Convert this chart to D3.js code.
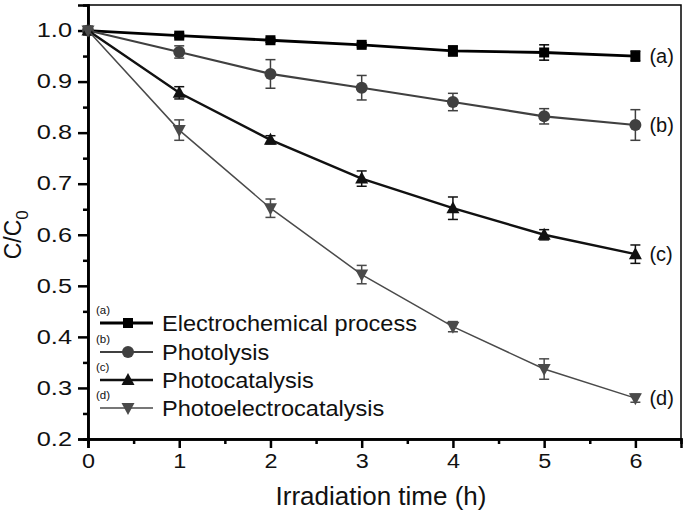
<!DOCTYPE html>
<html><head><meta charset="utf-8">
<script src="https://cdn.jsdelivr.net/npm/d3@7"></script>
<style>body{margin:0;background:#fff;} svg{display:block;font-family:Arial,"Liberation Sans",sans-serif;}</style>
</head><body>
<svg id="c" width="685" height="511"></svg>
<script>
const times = [0,1,2,3,4,5,6];
const seriesNames = ["Electrochemical process","Photolysis","Photocatalysis","Photoelectrocatalysis"];
const seriesTags = ["(a)","(b)","(c)","(d)"];
const valuesA = [1.0,0.990,0.981,0.972,0.960,0.957,0.950];
const errorsA = [0,0.004,0.004,0.004,0.010,0.015,0.010];
const valuesB = [1.0,0.958,0.915,0.888,0.860,0.832,0.815];
const errorsB = [0,0.012,0.028,0.024,0.017,0.015,0.030];
const valuesC = [1.0,0.878,0.786,0.710,0.652,0.600,0.562];
const errorsC = [0,0.012,0.008,0.015,0.022,0.010,0.018];
const valuesD = [1.0,0.805,0.652,0.522,0.420,0.337,0.280];
const errorsD = [0,0.020,0.018,0.018,0.010,0.020,0.008];
const yTicks = [0.2,0.3,0.4,0.5,0.6,0.7,0.8,0.9,1.0];
const xTicks = [0,1,2,3,4,5,6];

const styles = [
  {color:"#000000", width:2.8, shape:"square"},
  {color:"#404040", width:2.2, shape:"circle"},
  {color:"#111111", width:2.4, shape:"triangle"},
  {color:"#4a4a4a", width:1.5, shape:"tridown"}
];
const allVals=[valuesA,valuesB,valuesC,valuesD], allErr=[errorsA,errorsB,errorsC,errorsD];

const svg = d3.select("#c");
const L=88,R=681,T=5,B=439;
const x = d3.scaleLinear().domain([0,6.5]).range([L,R]);
const y = d3.scaleLinear().domain([0.2,1.05]).range([B,T]);
const SX = 1.3;

function marker(g, shape, cx, cy, color){
  if(shape==="square") g.append("rect").attr("x",cx-5).attr("y",cy-5).attr("width",10).attr("height",10).attr("fill",color);
  else if(shape==="circle") g.append("circle").attr("cx",cx).attr("cy",cy).attr("r",6).attr("fill",color);
  else if(shape==="triangle") g.append("path").attr("d",`M${cx},${cy-7}L${cx+6.5},${cy+5}L${cx-6.5},${cy+5}Z`).attr("fill",color);
  else g.append("path").attr("d",`M${cx},${cy+7}L${cx+6.5},${cy-5}L${cx-6.5},${cy-5}Z`).attr("fill",color);
}

// frame
svg.append("rect").attr("x",L).attr("y",T).attr("width",R-L).attr("height",B-T).attr("fill","none").attr("stroke","#000").attr("stroke-width",1.5);

// axes
const yAxis = d3.axisLeft(y).tickValues(yTicks).tickFormat(d3.format(".1f")).tickSize(10).tickPadding(5);
svg.append("g").attr("class","ya").attr("transform",`translate(${L},0)`).call(yAxis);
const yMinor = d3.axisLeft(y).tickValues(d3.range(0.25,1.05,0.1)).tickFormat("").tickSize(5);
svg.append("g").attr("transform",`translate(${L},0)`).call(yMinor);
const xAxis = d3.axisBottom(x).tickValues(xTicks).tickFormat(d3.format("d")).tickSize(9).tickPadding(6);
svg.append("g").attr("class","xa").attr("transform",`translate(0,${B})`).call(xAxis);
const xMinor = d3.axisBottom(x).tickValues(d3.range(0.5,6.5,1)).tickFormat("").tickSize(5);
svg.append("g").attr("transform",`translate(0,${B})`).call(xMinor);
svg.selectAll(".domain").attr("stroke","#000").attr("stroke-width",2.5);
svg.selectAll(".tick line").attr("stroke","#000").attr("stroke-width",2.5);
svg.selectAll(".tick text").attr("font-size",19.5).attr("fill","#111").attr("font-family","Arial, 'Liberation Sans', sans-serif");
svg.selectAll(".ya .tick text").attr("x",-16/SX).attr("transform",`scale(${SX},1)`);
svg.selectAll(".xa .tick text").attr("transform",`scale(1.2,1)`);

// axis titles
svg.append("text").attr("x",381).attr("y",505).attr("text-anchor","middle").attr("font-size",26).attr("fill","#111").text("Irradiation time (h)");
const yt = svg.append("text").attr("transform",`translate(21,${y(0.6)}) rotate(-90)`).attr("text-anchor","middle").attr("font-size",23).attr("fill","#111");
yt.append("tspan").text("C/C");
yt.append("tspan").attr("font-size",17).attr("dy",7).text("0");

// series
const line = d3.line().x((d,i)=>x(times[i])).y(d=>y(d));
allVals.forEach((vals,k)=>{
  const s = styles[k];
  const g = svg.append("g");
  g.append("path").datum(vals).attr("d",line).attr("fill","none").attr("stroke",s.color).attr("stroke-width",s.width);
  vals.forEach((v,i)=>{
    const e = allErr[k][i];
    if(e>0){
      const cx=x(times[i]);
      g.append("line").attr("x1",cx).attr("x2",cx).attr("y1",y(v-e)).attr("y2",y(v+e)).attr("stroke",s.color).attr("stroke-width",1.5);
      [v-e,v+e].forEach(w=>g.append("line").attr("x1",cx-5).attr("x2",cx+5).attr("y1",y(w)).attr("y2",y(w)).attr("stroke",s.color).attr("stroke-width",1.5));
    }
    marker(g,s.shape,x(times[i]),y(v),s.color);
  });
  g.append("text").attr("x",x(6)+14).attr("y",y(vals[6])+7).attr("font-size",20).attr("fill","#111").text(seriesTags[k]);
});

// legend
const legY = [323,352,380,408];
seriesNames.forEach((n,k)=>{
  const s=styles[k];
  const g=svg.append("g");
  g.append("line").attr("x1",100).attr("x2",153).attr("y1",legY[k]).attr("y2",legY[k]).attr("stroke",s.color).attr("stroke-width",s.width);
  marker(g,s.shape,128,legY[k],s.color);
  g.append("text").attr("x",162/1.07).attr("y",legY[k]+8).attr("transform","scale(1.07,1)").attr("font-size",22).attr("fill","#111").text(n);
  g.append("text").attr("x",96).attr("y",legY[k]-9).attr("font-size",11.5).attr("fill","#111").text(seriesTags[k]);
});
</script>
</body></html>
